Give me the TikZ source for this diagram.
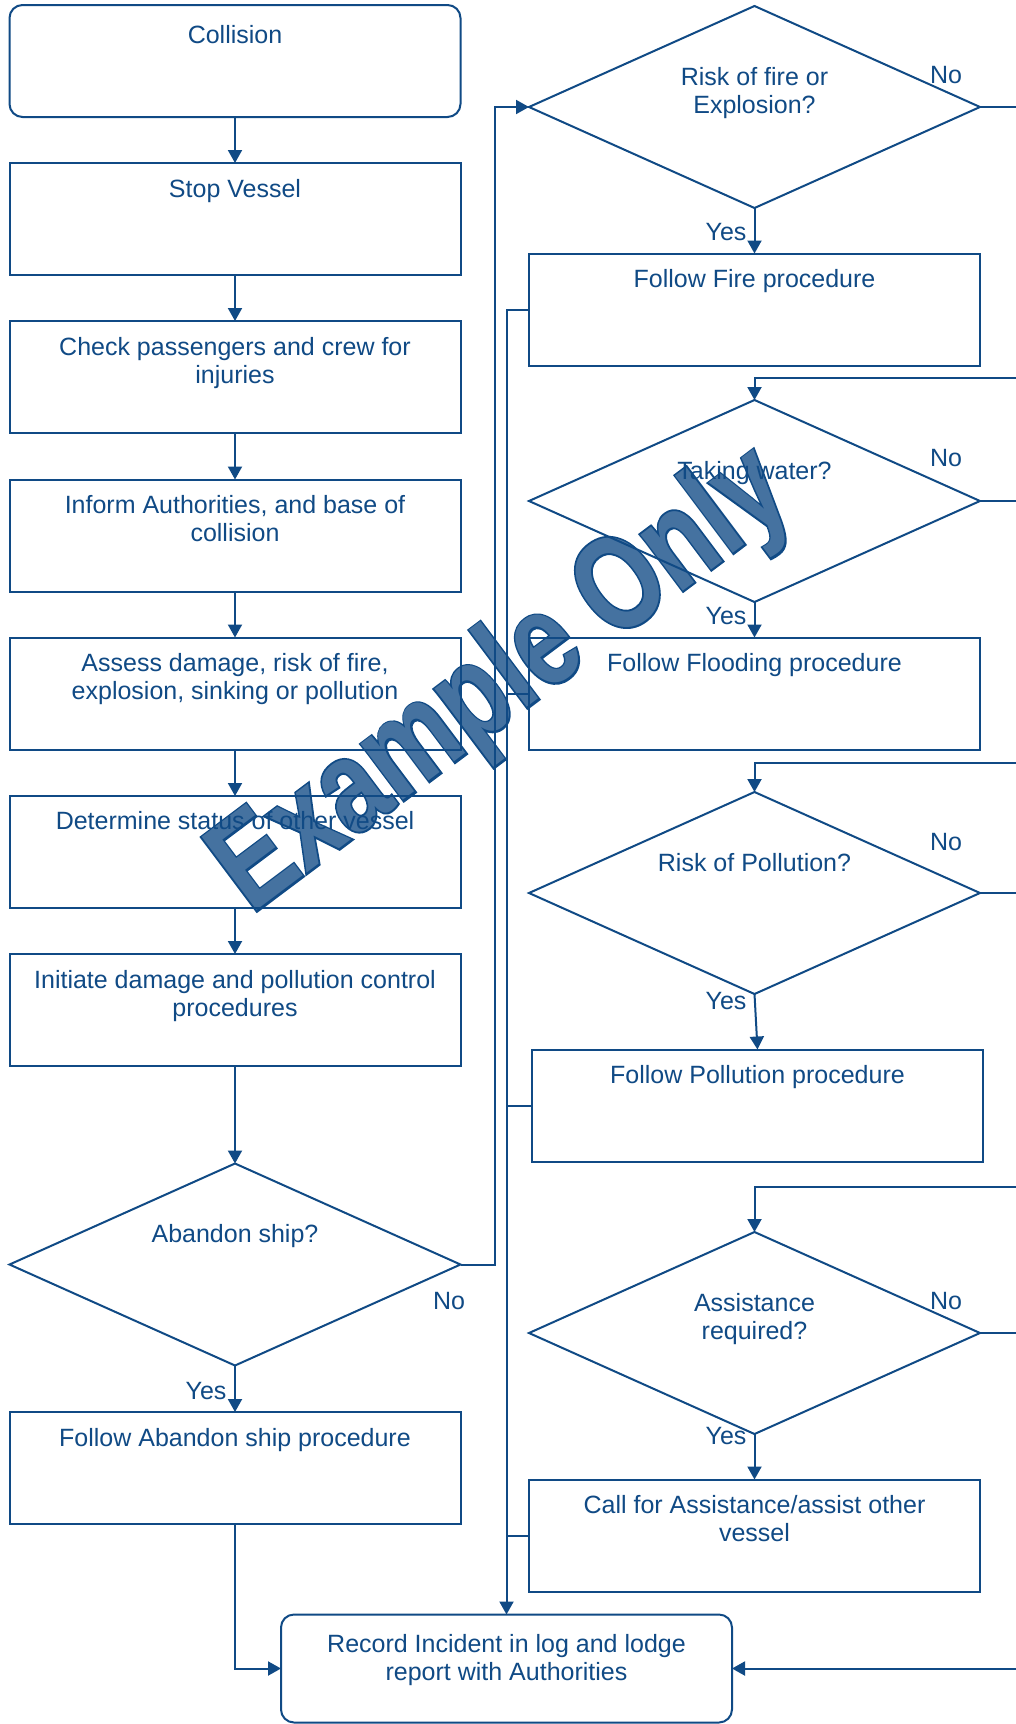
\documentclass[tikz,border=0pt]{standalone}
\usepackage{fontspec}
\setmainfont{Liberation Sans}
\newfontfamily\wmfont{Liberation Sans}
\newfontfamily\wmedge{Liberation Sans}[BoldFeatures={FakeBold=3}]
\usetikzlibrary{shapes.geometric,arrows.meta}
\definecolor{fc}{RGB}{16,74,133}
\colorlet{wmfill}{fc!78!white}
\newcommand{\boxtext}[1]{\parbox[t]{220pt}{\centering #1}}

\begin{document}
\begin{tikzpicture}[x=0.5pt,y=-0.5pt,
  every node/.style={text=fc,font=\fontsize{12.5pt}{14.2pt}\selectfont},
  line/.style={draw=fc,line width=1pt},
  arr/.style={line,-{Triangle[length=6.5pt,width=7pt]}},
  stepbox/.style={line,rectangle,minimum width=225.5pt,minimum height=56pt,inner sep=0pt,outer sep=0pt},
  endbox/.style={stepbox,rounded corners=6.5pt},
  choice/.style={line,diamond,minimum width=225.5pt,minimum height=101pt,inner sep=0pt,outer sep=0pt},
  txt/.style={anchor=base,inner sep=0pt},
  yn/.style={inner sep=0pt},
  wm/.style={transform shape,anchor=base west,inner sep=0pt}]

\useasboundingbox (0,0) rectangle (1016,1724);
\fill[white] (0,0) rectangle (1016,1724);

% diagonal watermark, drawn beneath the chart
\begin{scope}[shift={(251,915)},rotate=36.9,xscale=0.775]
  \node[wm,font=\wmedge\bfseries\fontsize{66.5pt}{70pt}\selectfont,text=fc] (wm-edge) at (0,0) {Example Only};
  \node[wm,font=\wmfont\bfseries\fontsize{66.5pt}{70pt}\selectfont,text=wmfill] (wm-body) at (0,0) {Example Only};
\end{scope}

% left column
\node[endbox]  (collision) at (235,61) {};
\node[stepbox] (stop)      at (235,219) {};
\node[stepbox] (check)     at (235,377) {};
\node[stepbox] (inform)    at (235,535.5) {};
\node[stepbox] (assess)    at (235,693.5) {};
\node[stepbox] (status)    at (235,852) {};
\node[stepbox] (initiate)  at (235,1010) {};
\node[choice]  (abandon)   at (235,1264.5) {};
\node[stepbox] (abship)    at (235,1468) {};
\node[endbox,minimum height=54pt] (record) at (506.5,1668.5) {};

% right column
\node[choice]  (d1)    at (754.5,107) {};
\node[stepbox] (fire)  at (754.5,309.5) {};
\node[choice]  (d2)    at (754.5,501) {};
\node[stepbox] (flood) at (754.5,693.5) {};
\node[choice]  (d3)    at (754.5,893) {};
\node[stepbox] (poll)  at (757.5,1105.5) {};
\node[choice]  (d4)    at (754.5,1333) {};
\node[stepbox] (assist) at (754.5,1535.5) {};

% box texts
\node[txt] (t-collision) at (235,43)   {\boxtext{Collision}};
\node[txt] (t-stop)      at (235,197)  {\boxtext{Stop Vessel}};
\node[txt] (t-check)     at (235,355)  {\boxtext{Check passengers and crew for\\injuries}};
\node[txt] (t-inform)    at (235,513)  {\boxtext{Inform Authorities, and base of\\collision}};
\node[txt] (t-assess)    at (235,671)  {\boxtext{Assess damage, risk of fire,\\explosion, sinking or pollution}};
\node[txt] (t-status)    at (235,829)  {\boxtext{Determine status of other vessel}};
\node[txt] (t-initiate)  at (235,988)  {\boxtext{Initiate damage and pollution control\\procedures}};
\node[txt] (t-abandon)   at (235,1242.5) {\boxtext{Abandon ship?}};
\node[txt] (t-abship)    at (235,1446) {\boxtext{Follow Abandon ship procedure}};
\node[txt] (t-record)    at (506.5,1652) {\boxtext{Record Incident in log and lodge\\report with Authorities}};
\node[txt] (t-d1)    at (754.5,85)   {\boxtext{Risk of fire or\\Explosion?}};
\node[txt] (t-fire)  at (754.5,287)  {\boxtext{Follow Fire procedure}};
\node[txt] (t-d2)    at (754.5,479)  {\boxtext{Taking water?}};
\node[txt] (t-flood) at (754.5,671)  {\boxtext{Follow Flooding procedure}};
\node[txt] (t-d3)    at (754.5,871)  {\boxtext{Risk of Pollution?}};
\node[txt] (t-poll)  at (757.5,1083) {\boxtext{Follow Pollution procedure}};
\node[txt] (t-d4)    at (754.5,1311) {\boxtext{Assistance\\required?}};
\node[txt] (t-assist) at (754.5,1513) {\boxtext{Call for Assistance/assist other\\vessel}};

% branch labels
\node[yn] (yes-ab) at (206,1391) {Yes};
\node[yn] (no-ab)  at (449,1301) {No};
\node[yn] (yes-1)  at (726,232)  {Yes};
\node[yn] (no-1)   at (946,75)   {No};
\node[yn] (yes-2)  at (726,616)  {Yes};
\node[yn] (no-2)   at (946,458)  {No};
\node[yn] (yes-3)  at (726,1001) {Yes};
\node[yn] (no-3)   at (946,842)  {No};
\node[yn] (yes-4)  at (726,1436) {Yes};
\node[yn] (no-4)   at (946,1301) {No};

% main sequence
\draw[arr] (collision) -- (stop);
\draw[arr] (stop) -- (check);
\draw[arr] (check) -- (inform);
\draw[arr] (inform) -- (assess);
\draw[arr] (assess) -- (status);
\draw[arr] (status) -- (initiate);
\draw[arr] (initiate) -- (abandon);
\draw[arr] (abandon) -- (abship);
\draw[arr] (abship.south) |- (record.west);

% "No" from abandon ship leads into the hazard checks
\coordinate (riser) at (495,1264.5);
\draw[arr] (abandon.east) -- (riser) |- (d1.west);

% hazard decisions
\draw[arr] (d1) -- (fire);
\draw[arr] (d2) -- (flood);
\draw[arr] (d3.south) -- (poll.north);
\draw[arr] (d4) -- (assist);

% "No" exits leave to the right and come back on the next check
\coordinate (x1) at (1024,107);
\coordinate (x2) at (1024,501);
\coordinate (x3) at (1024,893);
\coordinate (x4) at (1024,1333);
\draw[line] (d1.east) -- (x1);
\draw[line] (d2.east) -- (x2);
\draw[line] (d3.east) -- (x3);
\draw[line] (d4.east) -- (x4);
\coordinate (b2) at (1024,378);
\coordinate (b3) at (1024,763);
\coordinate (b4) at (1024,1187);
\coordinate (b5) at (1024,1668.5);
\draw[arr] (b2) -| (d2.north);
\draw[arr] (b3) -| (d3.north);
\draw[arr] (b4) -| (d4.north);
\draw[arr] (b5) -- (record.east);

% procedures collect into the record box
\draw[arr] (fire.west) -| (record.north);
\draw[line] (flood.west) -- (flood.west -| record.north);
\draw[line] (poll.west) -- (poll.west -| record.north);
\draw[line] (assist.west) -- (assist.west -| record.north);
\end{tikzpicture}
\end{document}
